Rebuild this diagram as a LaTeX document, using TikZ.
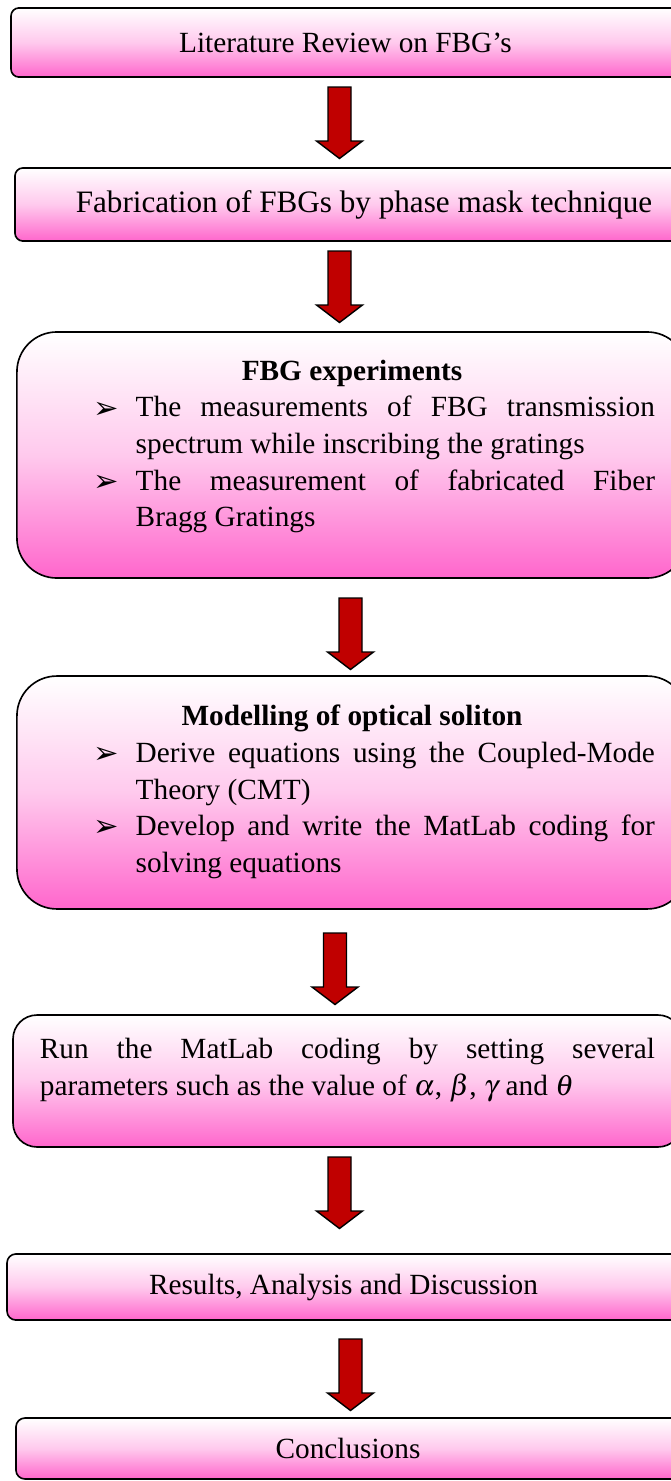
\documentclass[tikz,border=0pt]{standalone}
\usepackage{mathptmx}
\usepackage{fontspec}
\setmainfont{Liberation Serif}
\newfontfamily\dingfont{DejaVu Sans}

\definecolor{boxpink}{RGB}{255,102,204}
\definecolor{arrowred}{RGB}{192,0,0}

% one bullet point with a hanging indent
\newcommand{\stepitem}[1]{\par{\leftskip=37pt\noindent\hspace*{-18pt}\makebox[18pt][l]{\raisebox{-0.5pt}{\dingfont\fontsize{13}{13}\selectfont ➢}}#1\par}}

\begin{document}
\begin{tikzpicture}[x=0.15mm,y=-0.15mm,
  every node/.style={font=\fontsize{12.5}{15.6}\selectfont},
  pinkbox/.style={draw,line width=0.7pt,top color=white,bottom color=boxpink,middle color=boxpink!35,inner sep=0pt},
  flowarrow/.style={draw,line width=0.6pt,fill=arrowred,line join=miter}]
  \useasboundingbox (0,0) rectangle (671,1481);
  \clip (0,0) rectangle (671,1481);

  % the steps, top to bottom
  \node[pinkbox,rounded corners=3.4pt,minimum width=285.5pt,minimum height=29.5pt] (lit) at (345.5,42.5) {Literature Review on FBG’s};
  \node[pinkbox,rounded corners=3.4pt,minimum width=297.9pt,minimum height=31.2pt,font=\fontsize{13.3}{16}\selectfont] (fab) at (364,204.5) {Fabrication of FBGs by phase mask technique};
  \node[pinkbox,rounded corners=17pt,minimum width=286pt] (exp) at (352,455) {%
    \parbox[c][105pt][t]{258.6pt}{\vspace*{12pt}
    {\centering\textbf{FBG experiments}\par}
    \stepitem{The measurements of FBG transmission\linebreak spectrum while inscribing the gratings}
    \stepitem{The measurement of fabricated Fiber\linebreak Bragg Gratings}}};
  \node[pinkbox,rounded corners=17pt,minimum width=286pt] (model) at (352,792.5) {%
    \parbox[c][99.4pt][t]{258.6pt}{\vspace*{12.5pt}
    {\centering\textbf{Modelling of optical soliton}\par}
    \stepitem{Derive equations using the Coupled-Mode\linebreak Theory (CMT)}
    \stepitem{Develop and write the MatLab coding for\linebreak solving equations}}};
  \node[pinkbox,rounded corners=10.2pt,minimum width=285.5pt] (run) at (347.5,1081) {%
    \parbox[c][56.3pt][t]{262.5pt}{\vspace*{10pt}
    Run the MatLab coding by setting several\linebreak
    \mbox{parameters such as the value of $\alpha$, $\beta$, $\gamma$ and $\theta$}}};
  \node[pinkbox,rounded corners=3.8pt,minimum width=287.2pt,minimum height=28.2pt] (res) at (343.5,1287) {Results, Analysis and Discussion};
  \node[pinkbox,rounded corners=3.8pt,minimum width=283.4pt,minimum height=26pt] (concl) at (348,1448.5) {Conclusions};

  % block arrows between the steps: centre x / top y
  \foreach \cx/\ty in {339.5/87, 339.5/251, 350.5/598, 335/933, 339.5/1157, 350.5/1339}
    \draw[flowarrow] (\cx-11.5,\ty) -- (\cx+11.5,\ty) -- (\cx+11.5,\ty+54) -- (\cx+23,\ty+54)
      -- (\cx,\ty+71.5) -- (\cx-23,\ty+54) -- (\cx-11.5,\ty+54) -- cycle;
\end{tikzpicture}
\end{document}
